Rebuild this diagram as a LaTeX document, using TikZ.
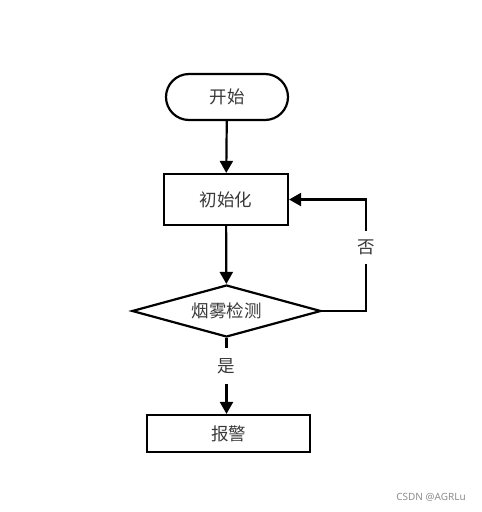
\documentclass[tikz,border=0pt]{standalone}
\usepackage{fontspec}
\newfontfamily\cjk{Noto Sans CJK SC}
\newfontfamily\marksans{Noto Sans}
\usetikzlibrary{shapes.geometric,arrows.meta}

\begin{document}
\begin{tikzpicture}[x=1pt,y=-1pt,line width=2.2pt,
  >={Triangle[length=12pt,width=13pt]},
  txt/.style={font=\cjk\fontsize{17.5}{17.5}\selectfont,text=black!78},
  terminal/.style={draw,txt,rectangle,rounded corners=23pt,minimum width=122pt,minimum height=46pt,inner sep=0pt},
  process/.style={draw,txt,rectangle,inner sep=0pt},
  decision/.style={draw,txt,diamond,aspect=3.5,minimum width=189pt,minimum height=52pt,inner sep=0pt},
  tag/.style={txt,fill=white,inner sep=2pt}]
\useasboundingbox (0,0) rectangle (482,512);
\node[terminal] (start) at (227,97) {开始};
\node[process,minimum width=124pt,minimum height=51pt] (init) at (226,199.5) {初始化};
\node[decision] (check) at (226.5,311) {烟雾检测};
\node[process,minimum width=163pt,minimum height=37pt] (alarm) at (228.5,433.5) {报警};
\coordinate (back) at (366,311);
\path[draw,->] (start) -- (init);
\path[draw,->] (init) -- (check);
\path[draw,->] (check.south) -- node[tag,pos=0.37,inner ysep=10pt] {是} (check.south |- alarm.north);
\path[draw,->] (check.east) -- (back) -- node[tag,pos=0.57,inner ysep=9pt] {否} (back |- init.east) -- (init.east);

\node[font=\marksans\fontsize{10}{10}\selectfont,text=black!45] (mark) at (431,497) {CSDN @AGRLu};
\end{tikzpicture}
\end{document}
